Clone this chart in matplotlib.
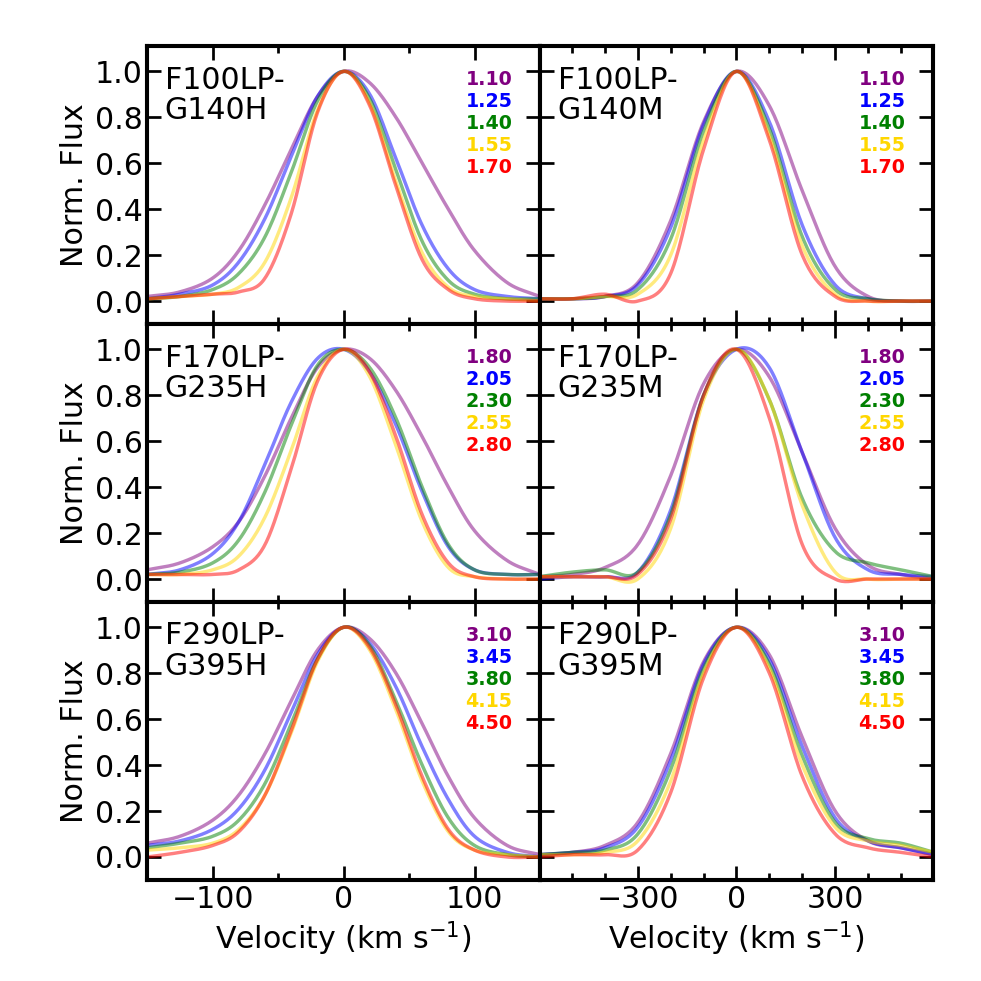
import numpy as np
import matplotlib
matplotlib.use("Agg")
import matplotlib.pyplot as plt
from matplotlib.ticker import MultipleLocator

xh = [-150,-125,-100,-80,-60,-40,-20,0,20,40,60,80,100,125,150]
xm = [-600,-500,-400,-300,-200,-100,0,100,200,300,400,500,600]

panel_names = ["F100LP-\nG140H", "F100LP-\nG140M", "F170LP-\nG235H", "F170LP-\nG235M", "F290LP-\nG395H", "F290LP-\nG395M"]
labels = [["1.10","1.25","1.40","1.55","1.70"]]*2 + [["1.80","2.05","2.30","2.55","2.80"]]*2 + [["3.10","3.45","3.80","4.15","4.50"]]*2
colors = ["purple","blue","green","gold","red"]

g140h = [
 [0.02,0.04,0.10,0.22,0.42,0.66,0.89,1.0,0.95,0.80,0.60,0.40,0.22,0.08,0.02],
 [0.01,0.03,0.07,0.17,0.36,0.63,0.89,1.0,0.90,0.62,0.33,0.14,0.05,0.02,0.01],
 [0.01,0.02,0.05,0.12,0.28,0.56,0.87,1.0,0.88,0.57,0.26,0.09,0.03,0.01,0.01],
 [0.01,0.02,0.03,0.06,0.17,0.45,0.83,1.0,0.86,0.52,0.21,0.06,0.02,0.01,0.00],
 [0.01,0.02,0.03,0.04,0.10,0.38,0.82,1.0,0.85,0.50,0.18,0.05,0.01,0.00,0.00]]
g140m = [
 [0.01,0.01,0.02,0.08,0.35,0.78,1.0,0.85,0.48,0.15,0.02,0.0,0.0],
 [0.01,0.01,0.02,0.07,0.32,0.77,1.0,0.78,0.33,0.07,0.01,0.0,0.0],
 [0.01,0.01,0.02,0.05,0.27,0.74,1.0,0.75,0.28,0.05,0.01,0.0,0.0],
 [0.01,0.01,0.02,0.03,0.20,0.70,1.0,0.72,0.24,0.03,0.0,0.0,0.0],
 [0.01,0.01,0.03,0.0,0.12,0.66,1.0,0.70,0.20,0.02,0.0,0.0,0.0]]
g235h = [
 [0.04,0.07,0.14,0.25,0.45,0.70,0.92,1.0,0.96,0.82,0.62,0.40,0.21,0.08,0.02],
 [0.02,0.04,0.11,0.25,0.50,0.77,0.96,1.0,0.90,0.67,0.38,0.14,0.04,0.02,0.02],
 [0.02,0.03,0.07,0.17,0.38,0.67,0.93,1.0,0.92,0.70,0.40,0.15,0.04,0.02,0.02],
 [0.02,0.02,0.04,0.10,0.27,0.56,0.88,1.0,0.88,0.58,0.25,0.05,0.01,0.0,0.0],
 [0.02,0.02,0.02,0.04,0.15,0.48,0.86,1.0,0.90,0.62,0.28,0.07,0.01,0.0,0.0]]
g235m = [
 [0.01,0.02,0.05,0.15,0.45,0.85,1.0,0.88,0.55,0.22,0.06,0.02,0.0],
 [0.0,0.01,0.01,0.03,0.30,0.80,1.0,0.92,0.55,0.18,0.04,0.02,0.01],
 [0.01,0.03,0.04,0.03,0.28,0.80,1.0,0.78,0.35,0.12,0.07,0.04,0.01],
 [0.01,0.01,0.01,0.0,0.22,0.78,1.0,0.78,0.32,0.03,0.0,0.0,0.0],
 [0.01,0.01,0.01,0.02,0.26,0.80,1.0,0.70,0.15,0.0,0.0,0.0,0.0]]
g395h = [
 [0.06,0.09,0.16,0.27,0.45,0.68,0.90,1.0,0.95,0.80,0.58,0.35,0.17,0.05,0.01],
 [0.05,0.07,0.12,0.21,0.38,0.63,0.88,1.0,0.93,0.74,0.48,0.25,0.09,0.02,0.0],
 [0.04,0.06,0.09,0.16,0.32,0.58,0.86,1.0,0.92,0.68,0.40,0.17,0.05,0.01,0.0],
 [0.03,0.04,0.06,0.12,0.27,0.54,0.85,1.0,0.90,0.64,0.33,0.11,0.03,0.01,0.0],
 [0.0,0.02,0.05,0.11,0.27,0.55,0.86,1.0,0.91,0.66,0.35,0.12,0.03,0.0,0.0]]
g395m = [
 [0.01,0.02,0.05,0.15,0.45,0.85,1.0,0.88,0.52,0.20,0.07,0.04,0.01],
 [0.01,0.02,0.04,0.13,0.42,0.84,1.0,0.86,0.48,0.17,0.07,0.04,0.01],
 [0.01,0.02,0.03,0.10,0.38,0.82,1.0,0.84,0.44,0.15,0.08,0.06,0.02],
 [0.01,0.01,0.02,0.07,0.33,0.80,1.0,0.82,0.40,0.13,0.07,0.05,0.02],
 [0.0,0.01,0.01,0.03,0.28,0.78,1.0,0.80,0.35,0.10,0.04,0.02,0.0]]

data = [g140h, g140m, g235h, g235m, g395h, g395m]

def smooth(x, y, n=20):
    # Catmull-Rom rendering through the read points
    x = np.asarray(x, float); y = np.asarray(y, float)
    px = np.concatenate([[2*x[0]-x[1]], x, [2*x[-1]-x[-2]]])
    py = np.concatenate([[2*y[0]-y[1]], y, [2*y[-1]-y[-2]]])
    ox, oy = [], []
    t = np.linspace(0, 1, n, endpoint=False)
    for i in range(1, len(px)-2):
        for P, out in ((px, ox), (py, oy)):
            p0, p1, p2, p3 = P[i-1], P[i], P[i+1], P[i+2]
            out.extend(0.5*((2*p1) + (-p0+p2)*t + (2*p0-5*p1+4*p2-p3)*t**2 + (-p0+3*p1-3*p2+p3)*t**3))
    ox.append(x[-1]); oy.append(y[-1])
    return np.array(ox), np.array(oy)

fig, axes = plt.subplots(3, 2, figsize=(10, 10), dpi=98.1)
fig.subplots_adjust(left=0.15, right=0.951, top=0.953, bottom=0.103, hspace=0, wspace=0)

for k, ax in enumerate(axes.flat):
    col = k % 2
    xs = xh if col == 0 else xm
    for j, ys in enumerate(data[k]):
        sx, sy = smooth(xs, ys)
        ax.plot(sx, sy, color=colors[j], alpha=0.5, lw=2.5)
        ax.text(0.93, 0.88 - j*0.079, labels[k][j], color=colors[j], transform=ax.transAxes,
                ha="right", va="center", fontsize=14, fontweight="bold")
    ax.text(0.045, 0.93, panel_names[k], transform=ax.transAxes, ha="left", va="top", fontsize=22, linespacing=1.05)
    ax.set_ylim(-0.1, 1.11)
    if col == 0:
        ax.set_xlim(-150, 150)
        ax.xaxis.set_major_locator(MultipleLocator(100))
        ax.xaxis.set_minor_locator(MultipleLocator(50))
        ax.set_ylabel("Norm. Flux", fontsize=22)
    else:
        ax.set_xlim(-597, 597)
        ax.xaxis.set_major_locator(MultipleLocator(300))
        ax.xaxis.set_minor_locator(MultipleLocator(100))
    ax.yaxis.set_major_locator(MultipleLocator(0.2))
    ax.tick_params(which="both", direction="in", top=True, right=True, labelsize=22, width=2)
    ax.tick_params(which="major", length=10)
    ax.tick_params(which="minor", length=5)
    for s in ax.spines.values():
        s.set_linewidth(3)
    if k < 4:
        ax.set_xticklabels([])
    else:
        ax.set_xlabel("Velocity (km s$^{-1}$)", fontsize=22)
    if col == 0:
        ax.set_yticks([0, 0.2, 0.4, 0.6, 0.8, 1.0])
        ax.set_yticklabels(["0.0", "0.2", "0.4", "0.6", "0.8", "1.0"])
    else:
        ax.set_yticks([0, 0.2, 0.4, 0.6, 0.8, 1.0])
        ax.set_yticklabels([])

fig.savefig("out.png", dpi=98.1)
